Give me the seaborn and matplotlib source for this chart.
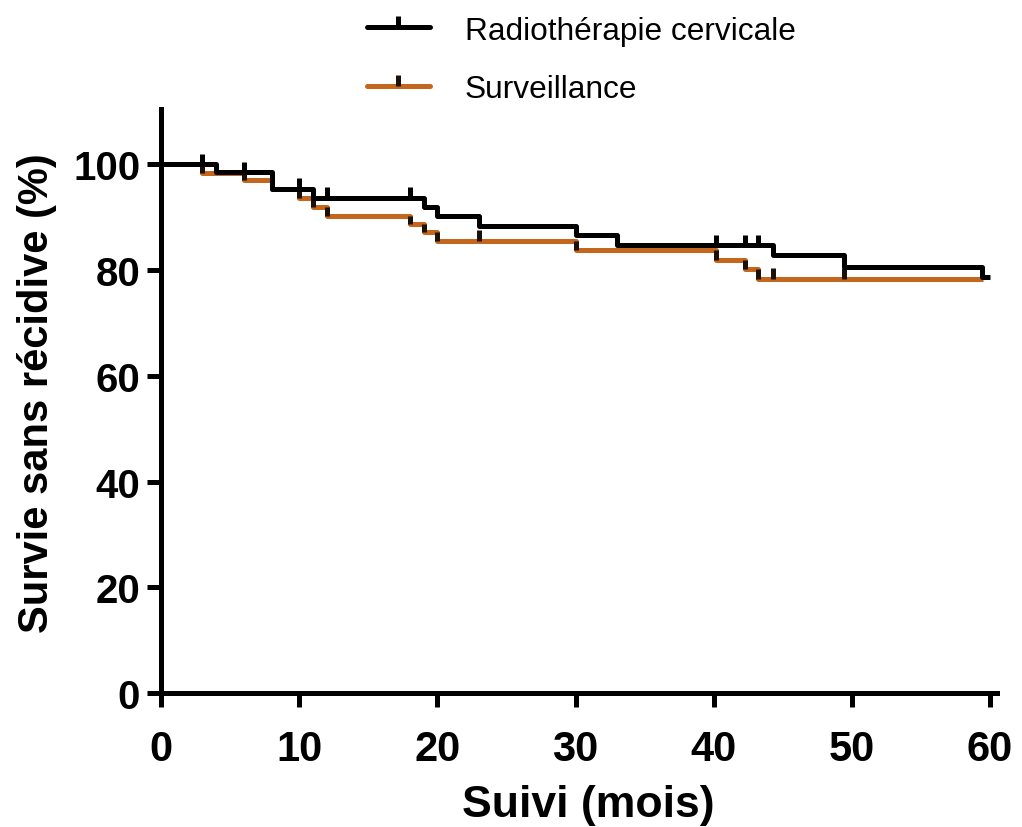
import numpy as np
import pandas as pd
import matplotlib
matplotlib.use("Agg")
import matplotlib.pyplot as plt
import seaborn as sns
from matplotlib.lines import Line2D
from matplotlib.path import Path

# ---- data ----
rt_label = "Radiothérapie cervicale"
sv_label = "Surveillance"

rt_time = [0, 4, 8, 11, 19, 20, 23, 30, 33, 44.3, 49.4, 59.4, 60]
rt_surv = [100, 98.5, 95.4, 93.7, 92.0, 90.3, 88.4, 86.6, 84.7, 82.8, 80.6, 78.7, 78.7]
rt_cens_t = [3, 6, 10, 12, 18, 40.2, 42.3, 43.2]
rt_cens_s = [100, 98.5, 95.4, 93.7, 93.7, 84.7, 84.7, 84.7]

sv_time = [0, 3, 6, 8, 10, 11, 12, 18, 19, 20, 30, 40.2, 42.3, 43.2, 59.5]
sv_surv = [100, 98.4, 97.0, 95.4, 93.6, 92.0, 90.3, 88.8, 87.2, 85.6, 83.8, 81.9, 80.2, 78.4, 78.4]
sv_cens_t = [23, 44.3, 49.4]
sv_cens_s = [85.6, 78.4, 78.4]

x_ticks = [0, 10, 20, 30, 40, 50, 60]
y_ticks = [0, 20, 40, 60, 80, 100]
x_title = "Suivi (mois)"
y_title = "Survie sans récidive (%)"

BLACK = "#000000"
ORANGE = "#C4661C"
DARK = "#1a1208"
LW = 3.6

sns.set_theme(style="ticks")
plt.rcParams["font.family"] = ["Liberation Sans", "DejaVu Sans"]
plt.rcParams["text.color"] = "black"
plt.rcParams["axes.labelcolor"] = "black"
plt.rcParams["xtick.color"] = "black"
plt.rcParams["ytick.color"] = "black"

fig = plt.figure(figsize=(10.22, 8.28), dpi=100)
ax = fig.add_axes([161 / 1022, 1 - 694 / 828, (990 - 161) / 1022 * 60.5 / 60, (694 - 110) / 828])

df_rt = pd.DataFrame({"t": rt_time, "s": rt_surv})
df_sv = pd.DataFrame({"t": sv_time, "s": sv_surv})

# orange curve: horizontal steps in orange, drops dark
sns.lineplot(data=df_sv, x="t", y="s", ax=ax, color=ORANGE, lw=LW,
             drawstyle="steps-post", estimator=None, sort=False, zorder=2,
             solid_capstyle="butt")
ax.vlines(sv_time[1:-1], sv_surv[1:-1], sv_surv[:-2], colors=DARK, lw=LW, zorder=2.5)
ax.vlines(sv_cens_t, sv_cens_s, [s + 2.0 for s in sv_cens_s], colors=DARK, lw=LW, zorder=2.5)

# black curve
sns.lineplot(data=df_rt, x="t", y="s", ax=ax, color=BLACK, lw=LW,
             drawstyle="steps-post", estimator=None, sort=False, zorder=3,
             solid_capstyle="butt")
ax.vlines(rt_cens_t, rt_cens_s, [s + 2.0 for s in rt_cens_s], colors=BLACK, lw=LW, zorder=3)

ax.set_xlim(0, 60.5)
ax.set_ylim(0, 110.5)
ax.set_xticks(x_ticks)
ax.set_yticks(y_ticks)
ax.spines["top"].set_visible(False)
ax.spines["right"].set_visible(False)
for sp in ["left", "bottom"]:
    ax.spines[sp].set_linewidth(LW)
    ax.spines[sp].set_color("black")
ax.tick_params(axis="both", direction="out", length=10, width=LW, color="black")
ax.tick_params(axis="y", pad=5)
ax.tick_params(axis="x", pad=16)
for lab in ax.get_yticklabels():
    lab.set_fontsize(29)
    lab.set_fontweight("bold")
for lab in ax.get_xticklabels():
    lab.set_fontsize(30)
    lab.set_fontweight("bold")

ax.set_xlabel(x_title, fontsize=32, fontweight="bold")
ax.xaxis.set_label_coords(0.511, -0.156)
ax.set_ylabel(y_title, fontsize=30, fontweight="bold")
ax.yaxis.set_label_coords(-0.125, 0.515)

up_tick = Path([(0, 0), (0, 1)], [Path.MOVETO, Path.LINETO])
handles = [
    Line2D([], [], color=BLACK, lw=LW, marker=up_tick, markersize=16,
           markeredgewidth=LW, markeredgecolor=BLACK),
    Line2D([], [], color=ORANGE, lw=LW, marker=up_tick, markersize=16,
           markeredgewidth=LW, markeredgecolor=DARK),
]
fig.legend(handles, [rt_label, sv_label], loc="upper left",
           bbox_to_anchor=(338 / 1022, 1 + 12 / 828), frameon=False,
           fontsize=22.8, handlelength=2.0, handletextpad=1.1, labelspacing=0.9,
           markerfirst=True)

fig.savefig("out.png", dpi=100)
